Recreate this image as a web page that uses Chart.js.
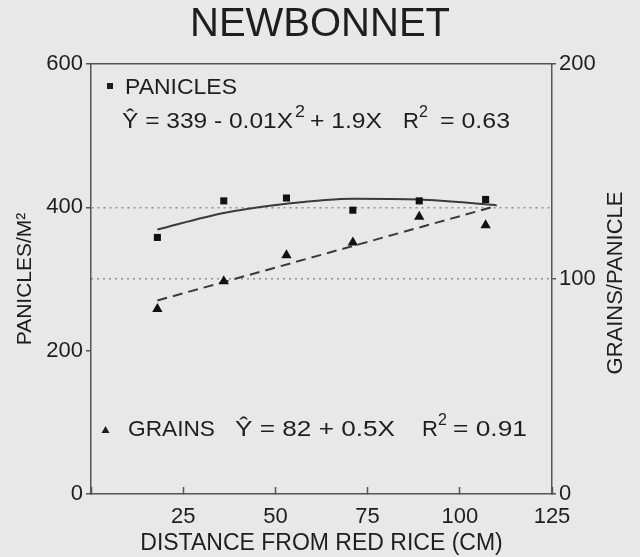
<!DOCTYPE html>
<html>
<head>
<meta charset="utf-8">
<script src="https://cdn.jsdelivr.net/npm/chart.js@4"></script>
<style>
  html, body { margin: 0; padding: 0; background: #e8e8e8; }
  canvas { display: block; }
</style>
</head>
<body>
<canvas id="newbonnetChart" width="640" height="557"></canvas>
<script>
// values
const distances = [18, 36, 53, 71, 89, 107];
const panicles = [358, 409, 413, 396, 409, 411];
const grains = [86, 99, 111, 117, 129, 125];

// fitted curves as drawn in the figure
const panicleFitX = [18, 36, 53, 71, 89, 110];
const panicleFitY = [369, 392, 405, 412, 411, 403];
const grainFitX = [18, 110];
const grainFitY = [90, 134];

const xTicks = [25, 50, 75, 100, 125];

const FONT = "'Liberation Sans', Arial, Helvetica, sans-serif";
const INK = "#1e1e1e";
const AXIS = "#555";

const toPoints = (xs, ys) => xs.map((x, i) => ({ x: x, y: ys[i] }));

// background + annotation text drawn on the canvas
const paper = {
  id: "paper",
  beforeDraw(chart) {
    const ctx = chart.ctx;
    ctx.save();
    ctx.fillStyle = "#e8e8e8";
    ctx.fillRect(0, 0, chart.width, chart.height);
    ctx.restore();
  },
  afterDraw(chart) {
    const ctx = chart.ctx;
    const area = chart.chartArea;
    ctx.save();
    ctx.fillStyle = INK;
    ctx.textBaseline = "middle";
    ctx.textAlign = "left";

    // runs: [text, left, right, superscript?]  (text is widened to fit the span)
    const runs = (list, y) => {
      list.forEach(([t, x0, x1, sup]) => {
        ctx.save();
        ctx.font = sup ? "16px " + FONT : "22px " + FONT;
        const w = ctx.measureText(t).width;
        ctx.translate(x0, sup ? y - 9 : y);
        ctx.scale(Math.max(1, (x1 - x0) / w), 1);
        ctx.fillText(t, 0, 0);
        ctx.restore();
      });
    };

    // panicles legend
    ctx.fillRect(107, 83, 6, 6);
    runs([["PANICLES", 125, 237]], 88);
    runs([
      ["\u0176 = 339 - 0.01X", 122, 293],
      ["2", 295, 305, true],
      ["+ 1.9X", 310, 382],
      ["R", 403, 418],
      ["2", 419, 427, true],
      ["= 0.63", 440, 510]
    ], 122);

    // grains legend
    ctx.beginPath();
    ctx.moveTo(105.5, 426);
    ctx.lineTo(109.5, 433);
    ctx.lineTo(101.5, 433);
    ctx.closePath();
    ctx.fill();
    runs([
      ["GRAINS", 128, 215],
      ["\u0176 = 82 + 0.5X", 235, 395],
      ["R", 422, 437],
      ["2", 438, 446, true],
      ["= 0.91", 453, 527]
    ], 430);

    // right axis title reads bottom to top
    ctx.font = "22px " + FONT;
    ctx.textAlign = "center";
    ctx.translate(616, (area.top + area.bottom) / 2 + 4);
    ctx.rotate(-Math.PI / 2);
    ctx.fillText("GRAINS/PANICLE", 0, 0);
    ctx.restore();
  }
};

const data = {
  datasets: [
    {
      type: "line",
      data: toPoints(panicleFitX, panicleFitY),
      borderColor: "#3a3a3a",
      borderWidth: 2,
      pointRadius: 0,
      cubicInterpolationMode: "monotone",
      yAxisID: "y",
      order: 2
    },
    {
      type: "line",
      data: toPoints(grainFitX, grainFitY),
      borderColor: "#3a3a3a",
      borderWidth: 2,
      borderDash: [10, 6],
      pointRadius: 0,
      yAxisID: "y2",
      order: 2
    },
    {
      type: "scatter",
      data: toPoints(distances, panicles),
      pointStyle: "rect",
      pointRadius: 5,
      backgroundColor: "#111",
      borderColor: "#111",
      borderWidth: 0,
      yAxisID: "y",
      order: 1
    },
    {
      type: "scatter",
      data: toPoints(distances, grains),
      pointStyle: "triangle",
      pointRadius: 6,
      backgroundColor: "#111",
      borderColor: "#111",
      borderWidth: 0,
      yAxisID: "y2",
      order: 1
    }
  ]
};

const options = {
  responsive: false,
  animation: false,
  layout: { padding: 0 },
  plugins: {
    legend: { display: false },
    tooltip: { enabled: false },
    title: {
      display: true,
      text: "NEWBONNET",
      color: INK,
      font: { family: FONT, size: 40, weight: "normal" },
      padding: { top: 1, bottom: 15 }
    }
  },
  scales: {
    x: {
      type: "linear",
      position: "bottom",
      min: 0,
      max: 125,
      afterBuildTicks: (scale) => { scale.ticks = [0].concat(xTicks).map(v => ({ value: v })); },
      afterFit: (scale) => { scale.height = 63; },
      ticks: {
        color: INK,
        padding: 17,
        maxRotation: 0,
        font: { family: FONT, size: 22 },
        callback: (v) => (v === 0 ? "" : v)
      },
      grid: { drawOnChartArea: false, tickLength: -7, tickColor: AXIS, tickWidth: 1.5 },
      border: { color: AXIS, width: 1.5 },
      title: {
        display: true,
        text: "DISTANCE FROM RED RICE (CM)",
        color: INK,
        font: { family: FONT, size: 23 },
        padding: { top: 0, bottom: 0 }
      }
    },
    xTop: {
      type: "linear",
      position: "top",
      min: 0,
      max: 125,
      afterFit: (scale) => { scale.height = 0; },
      ticks: { display: false },
      grid: { display: false },
      border: { color: AXIS, width: 1.5 }
    },
    y: {
      position: "left",
      min: 0,
      max: 600,
      afterFit: (scale) => { scale.width = 91; },
      ticks: { stepSize: 200, color: INK, padding: 3, font: { family: FONT, size: 22 } },
      grid: {
        color: (c) => (c.tick && c.tick.value === 400 ? "#8f8f8f" : "rgba(0,0,0,0)"),
        lineWidth: 1.5,
        tickColor: AXIS,
        tickLength: 5,
        tickBorderDash: []
      },
      border: { color: AXIS, width: 1.5, dash: [2, 4] },
      title: {
        display: true,
        text: "PANICLES/M\u00B2",
        color: INK,
        font: { family: FONT, size: 21 },
        padding: { top: 13, bottom: 0 }
      }
    },
    y2: {
      position: "right",
      min: 0,
      max: 200,
      afterFit: (scale) => { scale.width = 88; },
      ticks: { stepSize: 100, color: INK, padding: 3, font: { family: FONT, size: 22 } },
      grid: {
        color: (c) => (c.tick && c.tick.value === 100 ? "#8f8f8f" : "rgba(0,0,0,0)"),
        lineWidth: 1.5,
        tickColor: AXIS,
        tickLength: 4,
        tickBorderDash: []
      },
      border: { color: AXIS, width: 1.5, dash: [2, 4] }
    }
  }
};

new Chart("newbonnetChart", {
  data,
  options,
  plugins: [paper]
});
</script>
</body>
</html>
